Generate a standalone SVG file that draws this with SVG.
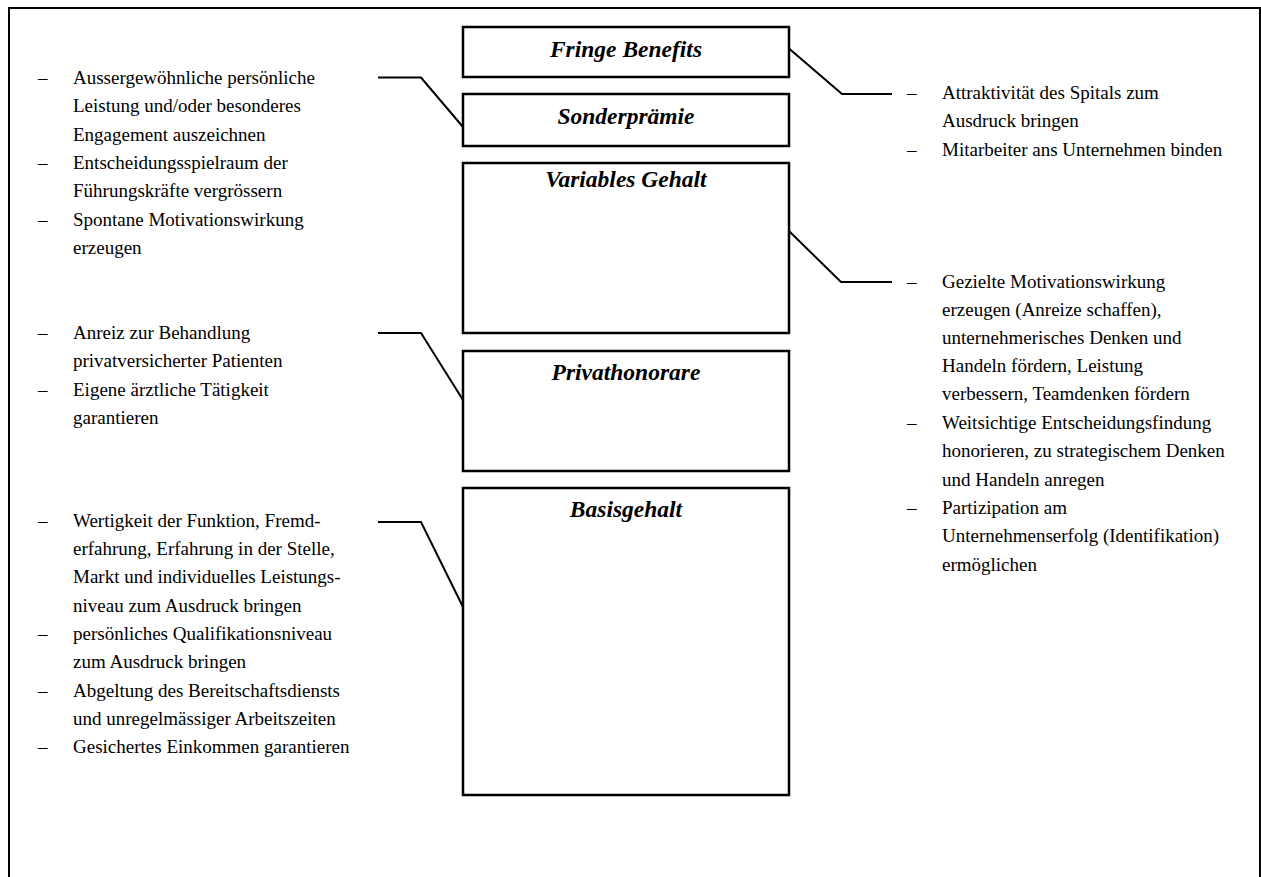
<svg xmlns="http://www.w3.org/2000/svg" width="1261" height="877" viewBox="0 0 1261 877">
<style>
.box{fill:#fff;stroke:#000;stroke-width:2.5}
.title{font-family:"Liberation Serif","Times New Roman",serif;font-weight:bold;font-style:italic;font-size:23.5px;text-anchor:middle;fill:#000}
.t{font-family:"Liberation Serif","Times New Roman",serif;font-size:19px;fill:#000}
.conn{fill:none;stroke:#000;stroke-width:2}
.frame{fill:none;stroke:#000;stroke-width:2}
</style>
<rect width="1261" height="877" fill="#fff"/>
<path class="frame" d="M9,880 V8 H1260 V880"/>
<g id="connectors">
<path class="conn" d="M378,77.5 H421 L463,127"/>
<path class="conn" d="M789,48.5 L842,94 H892"/>
<path class="conn" d="M789,231 L841,282 H892"/>
<path class="conn" d="M378,333 H421 L463,400"/>
<path class="conn" d="M378,522 H421 L463,607"/>
</g>
<g id="fringe"><rect class="box" x="463" y="27" width="326" height="50"/><text class="title" x="626" y="57">Fringe Benefits</text></g>
<g id="sonder"><rect class="box" x="463" y="94" width="326" height="52"/><text class="title" x="626" y="124">Sonderprämie</text></g>
<g id="variabel"><rect class="box" x="463" y="163" width="326" height="170"/><text class="title" x="626" y="187">Variables Gehalt</text></g>
<g id="privat"><rect class="box" x="463" y="351" width="326" height="120"/><text class="title" x="626" y="380">Privathonorare</text></g>
<g id="basis"><rect class="box" x="463" y="488" width="326" height="307"/><text class="title" x="626" y="517">Basisgehalt</text></g>
<g id="left1" class="t">
<text x="38" y="84">–</text><text x="73" y="84">Aussergewöhnliche persönliche</text>
<text x="73" y="112">Leistung und/oder besonderes</text>
<text x="73" y="141">Engagement auszeichnen</text>
<text x="38" y="169">–</text><text x="73" y="169">Entscheidungsspielraum der</text>
<text x="73" y="197">Führungskräfte vergrössern</text>
<text x="38" y="226">–</text><text x="73" y="226">Spontane Motivationswirkung</text>
<text x="73" y="254">erzeugen</text>
</g>
<g id="left2" class="t">
<text x="38" y="339">–</text><text x="73" y="339">Anreiz zur Behandlung</text>
<text x="73" y="367">privatversicherter Patienten</text>
<text x="38" y="396">–</text><text x="73" y="396">Eigene ärztliche Tätigkeit</text>
<text x="73" y="424">garantieren</text>
</g>
<g id="left3" class="t">
<text x="38" y="527">–</text><text x="73" y="527">Wertigkeit der Funktion, Fremd-</text>
<text x="73" y="555">erfahrung, Erfahrung in der Stelle,</text>
<text x="73" y="583">Markt und individuelles Leistungs-</text>
<text x="73" y="612">niveau zum Ausdruck bringen</text>
<text x="38" y="640">–</text><text x="73" y="640">persönliches Qualifikationsniveau</text>
<text x="73" y="668">zum Ausdruck bringen</text>
<text x="38" y="697">–</text><text x="73" y="697">Abgeltung des Bereitschaftsdiensts</text>
<text x="73" y="725">und unregelmässiger Arbeitszeiten</text>
<text x="38" y="753">–</text><text x="73" y="753">Gesichertes Einkommen garantieren</text>
</g>
<g id="right1" class="t">
<text x="907" y="99">–</text><text x="942" y="99">Attraktivität des Spitals zum</text>
<text x="942" y="127">Ausdruck bringen</text>
<text x="907" y="156">–</text><text x="942" y="156">Mitarbeiter ans Unternehmen binden</text>
</g>
<g id="right2" class="t">
<text x="907" y="288">–</text><text x="942" y="288">Gezielte Motivationswirkung</text>
<text x="942" y="316">erzeugen (Anreize schaffen),</text>
<text x="942" y="344">unternehmerisches Denken und</text>
<text x="942" y="372">Handeln fördern, Leistung</text>
<text x="942" y="400">verbessern, Teamdenken fördern</text>
<text x="907" y="429">–</text><text x="942" y="429">Weitsichtige Entscheidungsfindung</text>
<text x="942" y="457">honorieren, zu strategischem Denken</text>
<text x="942" y="486">und Handeln anregen</text>
<text x="907" y="514">–</text><text x="942" y="514">Partizipation am</text>
<text x="942" y="542">Unternehmenserfolg (Identifikation)</text>
<text x="942" y="571">ermöglichen</text>
</g>
</svg>
